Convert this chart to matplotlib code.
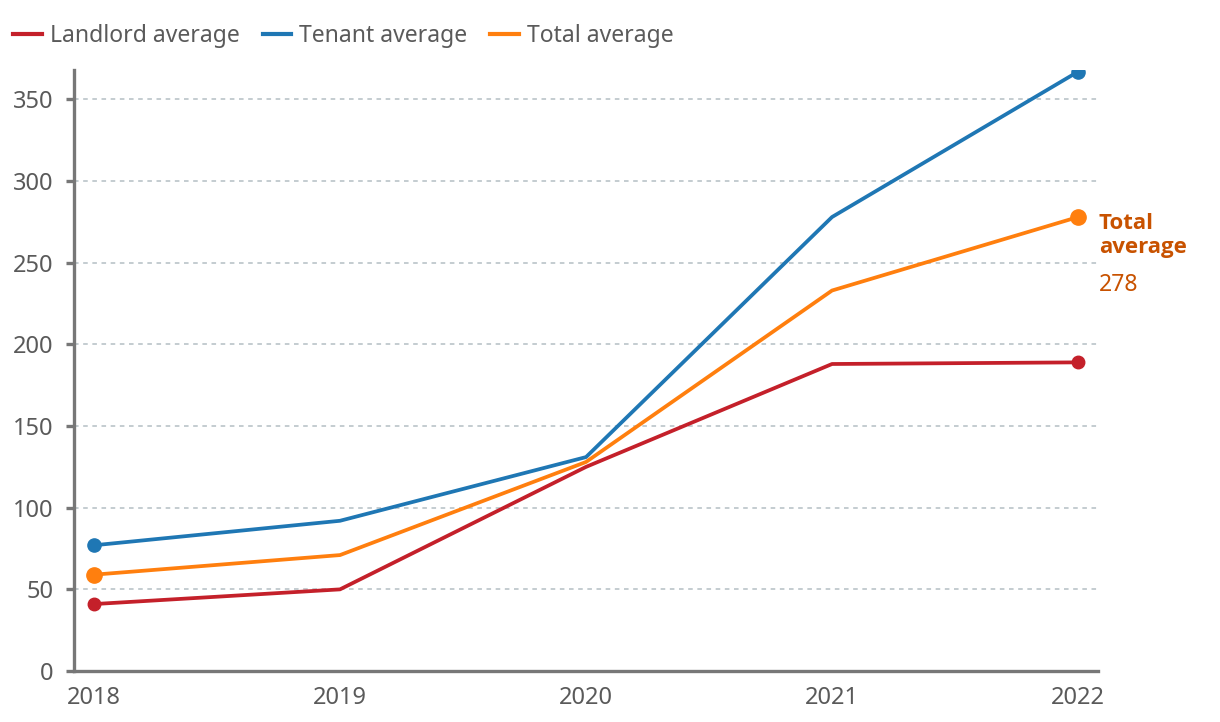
import matplotlib
matplotlib.use("Agg")
import matplotlib.pyplot as plt
from matplotlib.lines import Line2D

plt.rcParams['font.family'] = ['Noto Sans', 'DejaVu Sans']

years = [2018, 2019, 2020, 2021, 2022]
landlord = [41, 50, 125, 188, 189]
tenant = [77, 92, 131, 278, 367]
total = [59, 71, 128, 233, 278]
yticks = [0, 50, 100, 150, 200, 250, 300, 350]

c_land = '#c4202a'
c_ten = '#1f77b4'
c_tot = '#ff7f0e'
c_lab = '#c85200'
c_axis = '#777777'
c_text = '#5a5a5a'

fig = plt.figure(figsize=(12.2, 7.22), dpi=100)
ax = fig.add_axes([0.0607, 0.0706, 0.8393, 0.8324])

lw = 2.7
for vals, col, ms in [(landlord, c_land, 9), (tenant, c_ten, 9.5), (total, c_tot, 11)]:
    ax.plot(years, vals, color=col, lw=lw, solid_capstyle='round', zorder=3)
    ax.plot([years[0], years[-1]], [vals[0], vals[-1]], 'o', color=col, ms=ms, zorder=4)

ax.set_xlim(years[0] - 0.081, years[-1] + 0.081)
ax.set_ylim(0, 368)
ax.set_yticks(yticks)
ax.set_xticks(years)
ax.grid(axis='y', color='#b4bfc4', ls=(0, (3, 3)), lw=1.1)
ax.set_axisbelow(True)
for s in ['top', 'right']:
    ax.spines[s].set_visible(False)
for s in ['left', 'bottom']:
    ax.spines[s].set_color(c_axis)
    ax.spines[s].set_linewidth(2.4)
ax.tick_params(axis='y', length=6, width=2.4, color=c_axis, labelsize=17, labelcolor=c_text, pad=9)
ax.tick_params(axis='x', length=0, labelsize=17, labelcolor=c_text, pad=11)

ax.text(years[-1] + 0.085, 280.5, 'Total\naverage', color=c_lab, fontsize=16,
        fontweight='bold', family=['Open Sans', 'DejaVu Sans'], va='top', ha='left',
        linespacing=1.22, clip_on=False)
ax.text(years[-1] + 0.085, 244, str(total[-1]), color=c_lab, fontsize=16.5,
        va='top', ha='left', clip_on=False)

handles = [Line2D([], [], color=c, lw=3) for c in (c_land, c_ten, c_tot)]
fig.legend(handles, ['Landlord average', 'Tenant average', 'Total average'], loc='upper left',
           bbox_to_anchor=(-0.006, 0.995), ncol=3, frameon=False, fontsize=16.5, labelcolor=c_text,
           handlelength=1.25, handletextpad=0.35, columnspacing=1.0)

fig.savefig('out.png', dpi=100)
